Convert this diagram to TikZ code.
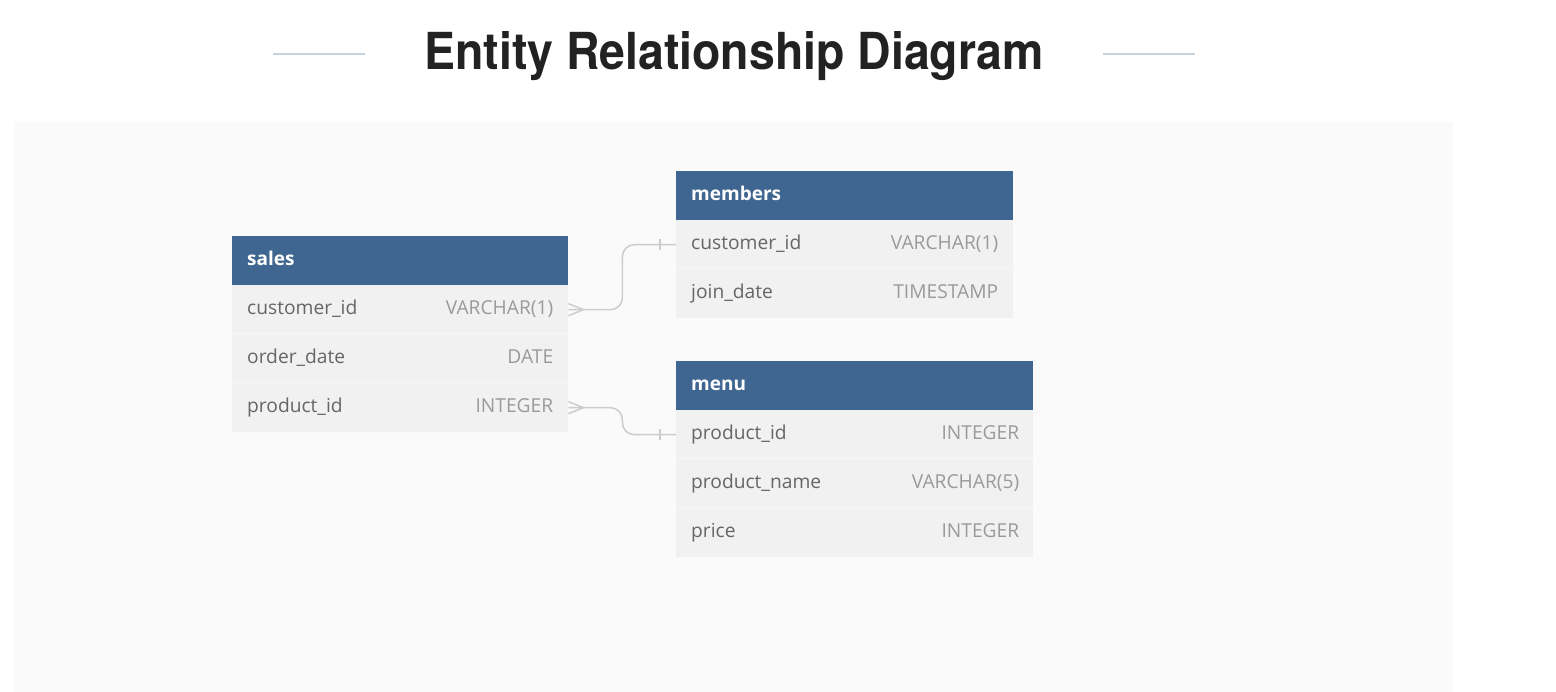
\documentclass[tikz,border=0pt]{standalone}
\usepackage{fontspec}
\setmainfont{Open Sans}
\newfontfamily\titlefont{TeX Gyre Heros}
\definecolor{hdrblue}{HTML}{3F6690}
\definecolor{rowgray}{HTML}{F1F1F1}
\definecolor{panelgray}{HTML}{FAFAFA}
\definecolor{nametext}{HTML}{666666}
\definecolor{typetext}{HTML}{9A9A9A}
\definecolor{titletext}{HTML}{222222}
\definecolor{titleline}{HTML}{C5D3DE}
\definecolor{connline}{HTML}{CCCCCC}
\definecolor{sepline}{HTML}{F7F7F7}
\begin{document}
\begin{tikzpicture}[x=1pt,y=-1pt,
  hdr/.style={fill=hdrblue, draw=none, minimum height=49pt, inner sep=0pt, anchor=north west},
  rowbox/.style={fill=rowgray, draw=none, minimum height=49pt, inner sep=0pt, anchor=north west},
  hdrtext/.style={text=white, font=\fontsize{19pt}{22pt}\selectfont\bfseries, anchor=mid west, inner sep=0pt, yshift=-2pt},
  nametxt/.style={text=nametext, font=\fontsize{19.2pt}{22pt}\selectfont, anchor=mid west, inner sep=0pt, yshift=-2pt},
  typetxt/.style={text=typetext, font=\fontsize{19.2pt}{22pt}\selectfont, anchor=mid east, inner sep=0pt, yshift=-2pt},
  conn/.style={draw=connline, line width=1.5pt, rounded corners=12pt},
  tick/.style={draw=connline, line width=1.5pt},
  tline/.style={draw=titleline, line width=2pt}
]
\useasboundingbox (0,0) rectangle (1556,692);
\fill[white] (0,0) rectangle (1556,692);
\fill[panelgray] (14,122) rectangle (1453,692);

% title
\node[text=titletext, font=\titlefont\fontsize{51pt}{60pt}\selectfont\bfseries, anchor=base, inner sep=0pt] (title) at (734,69.5) {\scalebox{0.91}[1]{Entity Relationship Diagram}};
\coordinate (tl1) at (273,54); \coordinate (tl2) at (365,54);
\coordinate (tr1) at (1103,54); \coordinate (tr2) at (1195,54);
\draw[tline] (tl1) -- (tl2);
\draw[tline] (tr1) -- (tr2);

% sales
\node[hdr, minimum width=336pt] (sales) at (232,236) {};
\node[hdrtext] at ([xshift=15pt]sales.west) {sales};
\node[rowbox, minimum width=336pt] (sales1) at (232,285) {};
\node[rowbox, minimum width=336pt] (sales2) at (232,334) {};
\node[rowbox, minimum width=336pt] (sales3) at (232,383) {};
\draw[sepline, line width=1pt] (sales2.north west) -- (sales2.north east);
\draw[sepline, line width=1pt] (sales3.north west) -- (sales3.north east);
\node[nametxt] at ([xshift=15pt]sales1.west) {customer\_id};
\node[typetxt] at ([xshift=-15pt]sales1.east) {VARCHAR(1)};
\node[nametxt] at ([xshift=15pt]sales2.west) {order\_date};
\node[typetxt] at ([xshift=-15pt]sales2.east) {DATE};
\node[nametxt] at ([xshift=15pt]sales3.west) {product\_id};
\node[typetxt] at ([xshift=-15pt]sales3.east) {INTEGER};

% members
\node[hdr, minimum width=337pt] (members) at (676,171) {};
\node[hdrtext] at ([xshift=15pt]members.west) {members};
\node[rowbox, minimum width=337pt] (members1) at (676,220) {};
\node[rowbox, minimum width=337pt] (members2) at (676,269) {};
\draw[sepline, line width=1pt] (members2.north west) -- (members2.north east);
\node[nametxt] at ([xshift=15pt]members1.west) {customer\_id};
\node[typetxt] at ([xshift=-15pt]members1.east) {VARCHAR(1)};
\node[nametxt] at ([xshift=15pt]members2.west) {join\_date};
\node[typetxt] at ([xshift=-15pt]members2.east) {TIMESTAMP};

% menu
\node[hdr, minimum width=357pt] (menu) at (676,361) {};
\node[hdrtext] at ([xshift=15pt]menu.west) {menu};
\node[rowbox, minimum width=357pt] (menu1) at (676,410) {};
\node[rowbox, minimum width=357pt] (menu2) at (676,459) {};
\node[rowbox, minimum width=357pt] (menu3) at (676,508) {};
\draw[sepline, line width=1pt] (menu2.north west) -- (menu2.north east);
\draw[sepline, line width=1pt] (menu3.north west) -- (menu3.north east);
\node[nametxt] at ([xshift=15pt]menu1.west) {product\_id};
\node[typetxt] at ([xshift=-14pt]menu1.east) {INTEGER};
\node[nametxt] at ([xshift=15pt]menu2.west) {product\_name};
\node[typetxt] at ([xshift=-14pt]menu2.east) {VARCHAR(5)};
\node[nametxt] at ([xshift=15pt]menu3.west) {price};
\node[typetxt] at ([xshift=-14pt]menu3.east) {INTEGER};

% connector sales.customer_id -> members.customer_id
\draw[conn] (sales1.east) -- ([xshift=54pt]sales1.east) |- (members1.west);
\draw[tick] ([yshift=-6pt]sales1.east) -- ([xshift=15pt]sales1.east);
\draw[tick] ([yshift=6pt]sales1.east) -- ([xshift=15pt]sales1.east);
\draw[tick] ([xshift=-16pt,yshift=-5.5pt]members1.west) -- ([xshift=-16pt,yshift=5.5pt]members1.west);

% connector sales.product_id -> menu.product_id
\draw[conn] (sales3.east) -- ([xshift=54pt]sales3.east) |- (menu1.west);
\draw[tick] ([yshift=-6pt]sales3.east) -- ([xshift=15pt]sales3.east);
\draw[tick] ([yshift=6pt]sales3.east) -- ([xshift=15pt]sales3.east);
\draw[tick] ([xshift=-16pt,yshift=-5.5pt]menu1.west) -- ([xshift=-16pt,yshift=5.5pt]menu1.west);
\end{tikzpicture}
\end{document}
